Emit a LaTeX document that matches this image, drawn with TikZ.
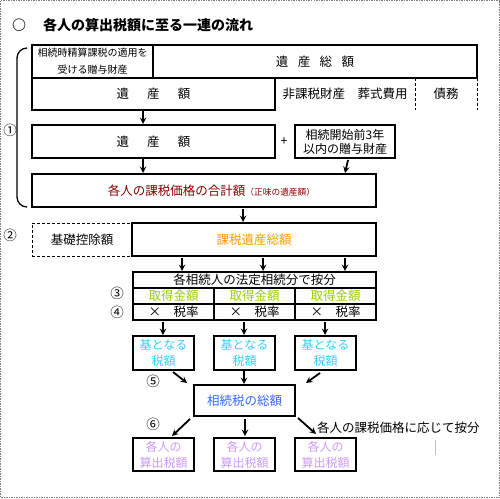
\documentclass[tikz,border=0pt]{standalone}
\usepackage{fontspec}
\setmainfont{Noto Sans CJK JP}
\usetikzlibrary{backgrounds}
\definecolor{darkred}{RGB}{136,0,0}
\definecolor{lorange}{RGB}{255,153,0}
\definecolor{ygreen}{RGB}{153,204,0}
\definecolor{lblue}{RGB}{51,204,255}
\definecolor{mblue}{RGB}{51,102,255}
\definecolor{lpurple}{RGB}{204,153,255}
\tikzstyle{none}=[inner sep=0pt]
\tikzstyle{title}=[anchor=west,inner sep=0pt,font=\fontsize{14}{16}\selectfont\bfseries]
\tikzstyle{box}=[rectangle,draw=black,line width=1.4,inner sep=0pt,align=center,font=\fontsize{12.5}{15}\selectfont]
\tikzstyle{dashedbox}=[rectangle,draw=black,dash pattern=on 3pt off 2pt,line width=1.0,inner sep=0pt,font=\fontsize{12.5}{15}\selectfont]
\tikzstyle{empty}=[rectangle,fill=none,draw=none,inner sep=0pt,font=\fontsize{12.5}{15}\selectfont]
\tikzstyle{number}=[rectangle,fill=none,draw=none,inner sep=0pt,font=\fontsize{13.5}{15}\selectfont]
\tikzstyle{inarrow}=[->, >=stealth, line width=1.8]
\tikzstyle{simple}=[-,line width=1.3]
\tikzstyle{dashline}=[-,dash pattern=on 3pt off 2pt,line width=1.0]
\tikzstyle{frame}=[-,draw=gray,dash pattern=on 1.5pt off 1pt,line width=1.0]
\tikzstyle{greyline}=[-,draw=lightgray,line width=1.0]
\pgfdeclarelayer{edgelayer}
\pgfdeclarelayer{nodelayer}
\pgfsetlayers{edgelayer,nodelayer,main}

\begin{document}
\begin{tikzpicture}[x=1pt,y=-1pt]
	\useasboundingbox (0,0) rectangle (500,498);
	\begin{pgfonlayer}{nodelayer}
		\node [style=title] (T) at (12,25) {○\hspace{17pt}各人の算出税額に至る一連の流れ};

		% total estate
		\node [style=box, minimum width=121pt, minimum height=33pt, font=\fontsize{10}{17}\selectfont] (G) at (92.5,61.5) {相続時精算課税の適用を\\受ける贈与財産};
		\node [style=box, minimum width=324pt, minimum height=33pt] (S) at (315,61.5) {遺\hspace{0.75em}産\hspace{0.75em}総\hspace{0.75em}額};
		\node [style=box, minimum width=243pt, minimum height=32pt] (E) at (153.5,94) {遺\hspace{1.45em}産\hspace{1.45em}額};
		\node [style=empty] (N) at (345,94) {非課税財産　葬式費用};
		\node [style=empty] (D) at (446,94) {債務};
		\node [style=none] (Nt) at (415,78) {};
		\node [style=none] (Nb) at (415,110) {};
		\node [style=none] (Dt) at (477,78) {};
		\node [style=none] (Db) at (477,110) {};

		\node [style=box, minimum width=243pt, minimum height=33pt] (E2) at (153.5,141.5) {遺\hspace{1.45em}産\hspace{1.45em}額};
		\node [style=empty] (plus) at (284,142) {+};
		\node [style=box, minimum width=100pt, minimum height=33pt, font=\fontsize{12}{14}\selectfont] (P) at (345,141.5) {相続開始前3年\\以内の贈与財産};
		\node [style=box, minimum width=344pt, minimum height=33pt, text=darkred] (K) at (204,190.5) {\hspace{15pt}各人の課税価格の合計額{\fontsize{8.7}{10}\selectfont （正味の遺産額）}};

		\node [style=none] (Btr) at (27,48) {};
		\node [style=none] (Btl) at (17,48) {};
		\node [style=none] (Bbl) at (17,207) {};
		\node [style=none] (Bbr) at (27,207) {};
		\node [style=number] at (10,130) {①};

		% taxable estate
		\node [style=number] at (10,235) {②};
		\node [style=dashedbox, minimum width=100pt, minimum height=33pt] (BD) at (82,239.5) {基礎控除額};
		\node [style=box, minimum width=244pt, minimum height=33pt, text=lorange] (KS) at (254,239.5) {課税遺産総額};

		\node [style=box, minimum width=243pt, minimum height=16pt] (H) at (254.5,280) {各相続人の法定相続分で按分};
		\node [style=box, minimum width=81pt, minimum height=16pt, text=ygreen] (Q1) at (173.5,296) {取得金額};
		\node [style=box, minimum width=81pt, minimum height=16pt, text=ygreen] (Q2) at (254.5,296) {取得金額};
		\node [style=box, minimum width=81pt, minimum height=16pt, text=ygreen] (Q3) at (335.5,296) {取得金額};
		\node [style=box, minimum width=81pt, minimum height=16pt] (R1) at (173.5,312) {×　税率};
		\node [style=box, minimum width=81pt, minimum height=16pt] (R2) at (254.5,312) {×　税率};
		\node [style=box, minimum width=81pt, minimum height=16pt] (R3) at (335.5,312) {×　税率};
		\node [style=number] at (117,293) {③};
		\node [style=number] at (117,312) {④};

		\node [style=box, minimum width=61pt, minimum height=34pt, font=\fontsize{12}{16}\selectfont, text=lblue] (B1) at (163.5,353) {基となる\\税額};
		\node [style=box, minimum width=61pt, minimum height=34pt, font=\fontsize{12}{16}\selectfont, text=lblue] (B2) at (244.5,353) {基となる\\税額};
		\node [style=box, minimum width=61pt, minimum height=34pt, font=\fontsize{12}{16}\selectfont, text=lblue] (B3) at (325.5,353) {基となる\\税額};

		% total tax
		\node [style=number] at (153,381) {⑤};
		\node [style=box, minimum width=101pt, minimum height=31pt, text=mblue] (ST) at (244.5,400.5) {相続税の総額};
		\node [style=number] at (153,424) {⑥};
		\node [style=empty, anchor=west] (L) at (317,428) {各人の課税価格に応じて按分};

		\node [style=box, minimum width=61pt, minimum height=33pt, font=\fontsize{12}{16}\selectfont, text=lpurple] (C1) at (163.5,454.5) {各人の\\算出税額};
		\node [style=box, minimum width=61pt, minimum height=33pt, font=\fontsize{12}{16}\selectfont, text=lpurple] (C2) at (244.5,454.5) {各人の\\算出税額};
		\node [style=box, minimum width=61pt, minimum height=33pt, font=\fontsize{12}{16}\selectfont, text=lpurple] (C3) at (325.5,454.5) {各人の\\算出税額};
		\node [style=none] (g1) at (435,440) {};
		\node [style=none] (g2) at (435,455) {};

		% arrow ends
		\node [style=none] (u1) at (143,111) {};
		\node [style=none] (d1) at (143,124) {};
		\node [style=none] (u2) at (143,159) {};
		\node [style=none] (d2) at (143,173) {};
		\node [style=none] (u3) at (348,160) {};
		\node [style=none] (d3) at (345,173) {};
		\node [style=none] (u4) at (243,209) {};
		\node [style=none] (d4) at (243,222) {};
		\node [style=none] (u5) at (182,258) {};
		\node [style=none] (d5) at (182,271) {};
		\node [style=none] (u6) at (263,258) {};
		\node [style=none] (d6) at (263,271) {};
		\node [style=none] (u7) at (345,258) {};
		\node [style=none] (d7) at (345,271) {};
		\node [style=none] (u8) at (163,322) {};
		\node [style=none] (d8) at (163,335) {};
		\node [style=none] (u9) at (244,322) {};
		\node [style=none] (d9) at (244,335) {};
		\node [style=none] (u10) at (325,322) {};
		\node [style=none] (d10) at (325,335) {};
		\node [style=none] (u11) at (173,372) {};
		\node [style=none] (d11) at (187,383) {};
		\node [style=none] (u12) at (244,371) {};
		\node [style=none] (d12) at (244,384) {};
		\node [style=none] (u13) at (320,373) {};
		\node [style=none] (d13) at (306,383) {};
		\node [style=none] (u14) at (190,419) {};
		\node [style=none] (d14) at (172,436) {};
		\node [style=none] (u15) at (245,419) {};
		\node [style=none] (d15) at (245,436) {};
		\node [style=none] (u16) at (298,418) {};
		\node [style=none] (d16) at (316,434) {};
	\end{pgfonlayer}
	\begin{pgfonlayer}{edgelayer}
		\draw [style=frame] (0.5,0.5) rectangle (499.5,497.5);
		\draw [style=simple, rounded corners=10pt] (Btr.center) -- (Btl.center) -- (Bbl.center) -- (Bbr.center);
		\draw [style=dashline] (Nt.center) to (Nb.center);
		\draw [style=dashline] (Dt.center) to (Db.center);
		\draw [style=greyline] (g1.center) to (g2.center);
		\foreach \i in {1,...,16}
			\draw [style=inarrow] (u\i.center) to (d\i.center);
	\end{pgfonlayer}
\end{tikzpicture}
\end{document}
